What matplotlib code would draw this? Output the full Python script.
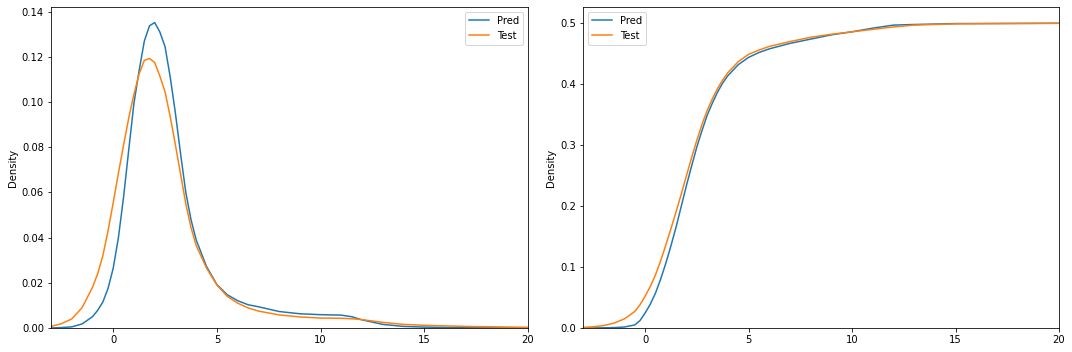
import matplotlib
matplotlib.use("Agg")
import matplotlib.pyplot as plt

# ---- data ----
kde_x = [-3, -2.5, -2, -1.5, -1, -0.75, -0.5, -0.25, 0, 0.25, 0.5, 0.75, 1, 1.25,
         1.5, 1.75, 2, 2.25, 2.5, 2.75, 3, 3.25, 3.5, 3.75, 4, 4.5, 5, 5.5, 6,
         6.5, 7, 8, 9, 10, 11, 11.5, 12, 13, 14, 15, 17, 20]
pred_density = [0.0000, 0.0002, 0.0005, 0.0018, 0.0050, 0.0078, 0.0115, 0.0175,
                0.0265, 0.0400, 0.0580, 0.0790, 0.0995, 0.1140, 0.1270, 0.1338,
                0.1352, 0.1310, 0.1245, 0.1110, 0.0950, 0.0770, 0.0600, 0.0480,
                0.0390, 0.0272, 0.0192, 0.0147, 0.0121, 0.0103, 0.0094, 0.0073,
                0.0063, 0.0059, 0.0057, 0.0050, 0.0036, 0.0016, 0.0007, 0.0004,
                0.0001, 0.0000]
test_density = [0.0007, 0.0019, 0.0040, 0.0090, 0.0180, 0.0240, 0.0320, 0.0430,
                0.0555, 0.0685, 0.0810, 0.0930, 0.1035, 0.1125, 0.1185, 0.1193,
                0.1175, 0.1115, 0.1045, 0.0935, 0.0810, 0.0680, 0.0550, 0.0445,
                0.0365, 0.0265, 0.0190, 0.0140, 0.0110, 0.0089, 0.0075, 0.0058,
                0.0049, 0.0044, 0.0043, 0.0041, 0.0037, 0.0025, 0.0016, 0.0012,
                0.0007, 0.0003]

cdf_x = [-3, -2.5, -2, -1.5, -1, -0.5, -0.25, 0, 0.25, 0.5, 0.75, 1, 1.25, 1.5,
         1.75, 2, 2.25, 2.5, 2.75, 3, 3.25, 3.5, 3.75, 4, 4.5, 5, 5.5, 6, 7, 8,
         9, 10, 11, 12, 13, 15, 20]
pred_cdf = [0.000, 0.0001, 0.0003, 0.0007, 0.0016, 0.005, 0.012, 0.0245, 0.039,
            0.057, 0.080, 0.106, 0.135, 0.166, 0.200, 0.234, 0.266, 0.297,
            0.324, 0.349, 0.369, 0.387, 0.402, 0.414, 0.432, 0.444, 0.452,
            0.458, 0.467, 0.474, 0.481, 0.486, 0.492, 0.497, 0.498, 0.4995,
            0.500]
test_cdf = [0.001, 0.002, 0.004, 0.008, 0.015, 0.027, 0.038, 0.052, 0.068,
            0.087, 0.110, 0.136, 0.163, 0.191, 0.220, 0.250, 0.280, 0.308,
            0.334, 0.357, 0.376, 0.393, 0.407, 0.419, 0.437, 0.449, 0.456,
            0.462, 0.470, 0.477, 0.482, 0.486, 0.490, 0.494, 0.497, 0.499,
            0.500]

labels = ["Pred", "Test"]
colors = ["#1f77b4", "#ff7f0e"]

W, H = 1072, 352
fig = plt.figure(figsize=(W / 72, H / 72), dpi=72)
ax1 = fig.add_axes([51 / W, 24 / H, 477 / W, 321 / H])
ax2 = fig.add_axes([583 / W, 24 / H, 476 / W, 321 / H])

ax1.plot(kde_x, pred_density, color=colors[0], lw=1.5, label=labels[0])
ax1.plot(kde_x, test_density, color=colors[1], lw=1.5, label=labels[1])
ax1.set_xlim(-3, 20)
ax1.set_ylim(0, 0.1421)
ax1.set_ylabel("Density")
ax1.legend(loc="upper right")

ax2.plot(cdf_x, pred_cdf, color=colors[0], lw=1.5, label=labels[0])
ax2.plot(cdf_x, test_cdf, color=colors[1], lw=1.5, label=labels[1])
ax2.set_xlim(-3, 20)
ax2.set_ylim(0, 0.5267)
ax2.set_ylabel("Density")
ax2.legend(loc="upper left")

for ax in (ax1, ax2):
    ax.set_xticks([0, 5, 10, 15, 20])

fig.savefig("out.png", dpi=72, facecolor="white")
